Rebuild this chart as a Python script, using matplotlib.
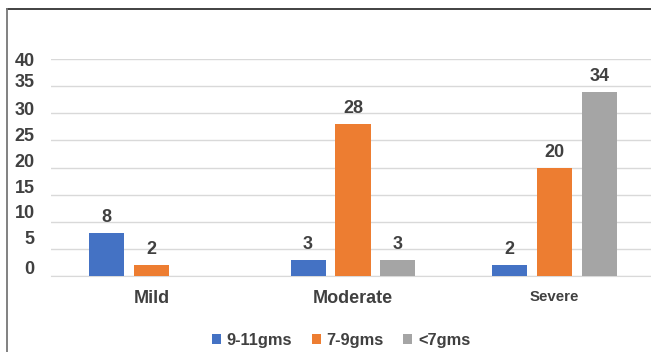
import numpy as np
import matplotlib.pyplot as plt
from matplotlib.lines import Line2D
from matplotlib.transforms import ScaledTranslation

plt.rcParams['font.family'] = ['Liberation Sans', 'DejaVu Sans']

categories = ['Mild', 'Moderate', 'Severe']
series_names = ['9-11gms', '7-9gms', '<7gms']
hb_9_11 = [8, 3, 2]
hb_7_9 = [2, 28, 20]
hb_lt7 = [np.nan, 3, 34]  # no bar for Mild
yticks = [0, 5, 10, 15, 20, 25, 30, 35, 40]

colors = ['#4472C4', '#ED7D31', '#A5A5A5']
txt = '#404040'

fig = plt.figure(figsize=(6.51, 3.52), dpi=100)
ax = fig.add_axes([50.75 / 651, 76 / 352, 604.5 / 651, 217 / 352])

x = np.arange(len(categories))
width = 0.174
offs = [-0.223, 0, 0.223]
for vals, off, c, name in zip([hb_9_11, hb_7_9, hb_lt7], offs, colors, series_names):
    bars = ax.bar(x + off, vals, width, color=c, label=name, zorder=3)
    for b, v in zip(bars, vals):
        if np.isnan(v):
            continue
        ax.annotate(str(v), (b.get_x() + b.get_width() / 2, v),
                    xytext=(0, 5), textcoords='offset points',
                    ha='center', va='bottom', fontsize=13,
                    fontweight='bold', color=txt)

ax.set_xlim(-0.5, 2.5)
ax.set_ylim(0, 40)
ax.set_yticks(yticks)
ax.set_xticks(x)
ax.set_xticklabels(categories)
ax.yaxis.grid(True, color='#d9d9d9', linewidth=1, zorder=0)
ax.set_axisbelow(True)
for s in ['top', 'right', 'left']:
    ax.spines[s].set_visible(False)
ax.spines['bottom'].set_color('#d9d9d9')
ax.tick_params(axis='both', length=0, labelcolor=txt, labelsize=13)
ax.tick_params(axis='y', pad=11.5)
ax.tick_params(axis='x', pad=10)
for lab in ax.get_xticklabels() + ax.get_yticklabels():
    lab.set_fontweight('bold')
ax.get_xticklabels()[2].set_fontsize(10.8)

# y labels sit a little above their gridlines in the original
lift = [9, 11, 10, 8, 7, 6, 5, 6, 0]
for lab, d in zip(ax.get_yticklabels(), lift):
    lab.set_transform(lab.get_transform() + ScaledTranslation(0, d / 100, fig.dpi_scale_trans))

handles, labels = ax.get_legend_handles_labels()
leg = fig.legend(handles, labels, loc='center', bbox_to_anchor=(341 / 651, 12 / 352),
                 ncol=3, frameon=False, handlelength=0.55, handleheight=0.55,
                 handletextpad=0.35, columnspacing=1.2,
                 prop={'weight': 'bold', 'size': 11.8})
for t in leg.get_texts():
    t.set_color(txt)

# border lines at top and left of the picture
fig.add_artist(Line2D([7 / 651, 1], [1 - 9 / 352, 1 - 9 / 352], color='#333333', linewidth=1.3))
fig.add_artist(Line2D([7 / 651, 7 / 651], [0, 1 - 9 / 352], color='#777777', linewidth=1.3))

fig.savefig('out.png', dpi=100)
